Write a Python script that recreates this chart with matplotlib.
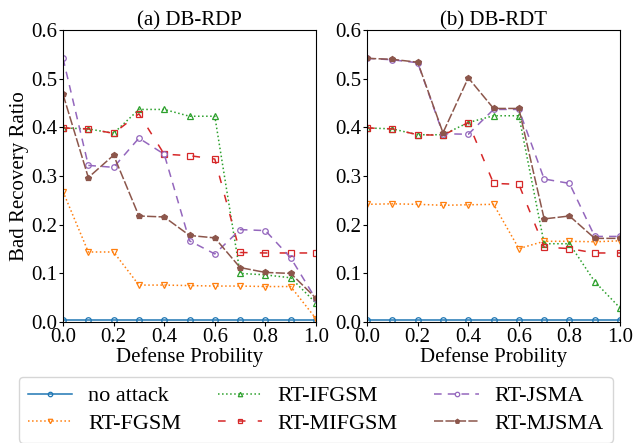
import matplotlib
matplotlib.use("Agg")
import matplotlib.pyplot as plt

plt.rcParams['font.family'] = ['Liberation Serif', 'DejaVu Serif']
plt.rcParams['font.size'] = 15

prob = [0.0, 0.1, 0.2, 0.3, 0.4, 0.5, 0.6, 0.7, 0.8, 0.9, 1.0]

# (a) DB-RDP
rdp_none = [0.005] * 11
rdp_fgsm = [0.268, 0.144, 0.144, 0.076, 0.076, 0.075, 0.074, 0.074, 0.073, 0.073, 0.007]
rdp_ifgsm = [0.399, 0.397, 0.388, 0.437, 0.437, 0.423, 0.423, 0.100, 0.097, 0.091, 0.039]
rdp_mifgsm = [0.399, 0.397, 0.388, 0.428, 0.345, 0.342, 0.335, 0.143, 0.142, 0.142, 0.142]
rdp_jsma = [0.542, 0.322, 0.318, 0.378, 0.345, 0.167, 0.140, 0.190, 0.188, 0.132, 0.047]
rdp_mjsma = [0.468, 0.297, 0.343, 0.218, 0.216, 0.178, 0.173, 0.112, 0.102, 0.100, 0.049]

# (b) DB-RDT
rdt_none = [0.005] * 11
rdt_fgsm = [0.242, 0.243, 0.242, 0.240, 0.241, 0.242, 0.151, 0.166, 0.166, 0.165, 0.167]
rdt_ifgsm = [0.399, 0.397, 0.385, 0.385, 0.410, 0.424, 0.424, 0.161, 0.161, 0.083, 0.029]
rdt_mifgsm = [0.399, 0.397, 0.385, 0.384, 0.410, 0.285, 0.283, 0.154, 0.151, 0.142, 0.142]
rdt_jsma = [0.542, 0.539, 0.533, 0.387, 0.386, 0.437, 0.437, 0.294, 0.285, 0.176, 0.176]
rdt_mjsma = [0.542, 0.540, 0.534, 0.389, 0.502, 0.439, 0.439, 0.212, 0.218, 0.172, 0.172]

labels = ['no attack', 'RT-FGSM', 'RT-IFGSM', 'RT-MIFGSM', 'RT-JSMA', 'RT-MJSMA']
colors = ['tab:blue', 'tab:orange', 'tab:green', 'tab:red', 'tab:purple', 'tab:brown']
markers = ['o', 'v', '^', 's', 'o', 'p']
fills = ['none', 'none', 'none', 'none', 'none', 'full']
styles = ['-', ':', ':', (0, (5, 8)), (0, (5, 4)), (0, (6, 1.5))]

fig = plt.figure(figsize=(6.34, 4.43), dpi=100)
ax1 = fig.add_axes([0.0994, 0.273, 0.399, 0.659])
ax2 = fig.add_axes([0.579, 0.273, 0.399, 0.659])

panels = [
    (ax1, '(a) DB-RDP', [rdp_none, rdp_fgsm, rdp_ifgsm, rdp_mifgsm, rdp_jsma, rdp_mjsma]),
    (ax2, '(b) DB-RDT', [rdt_none, rdt_fgsm, rdt_ifgsm, rdt_mifgsm, rdt_jsma, rdt_mjsma]),
]

for ax, title, series in panels:
    for vals, lab, c, m, f, ls in zip(series, labels, colors, markers, fills, styles):
        ax.plot(prob, vals, color=c, marker=m, fillstyle=f, linestyle=ls,
                linewidth=1.1, markersize=4, markeredgewidth=0.9, label=lab)
    ax.set_xlim(0, 1)
    ax.set_ylim(0, 0.6)
    ax.set_xticks([0.0, 0.2, 0.4, 0.6, 0.8, 1.0])
    ax.set_yticks([0.0, 0.1, 0.2, 0.3, 0.4, 0.5, 0.6])
    ax.set_title(title, fontsize=15, pad=2)
    ax.set_xlabel('Defense Probility', fontsize=15, labelpad=0)
    ax.tick_params(labelsize=15, length=3, pad=1)

ax1.set_ylabel('Bad Recovery Ratio', fontsize=15, labelpad=2)

handles, labs = ax1.get_legend_handles_labels()
fig.legend(handles, labs, ncol=3, loc='upper left', bbox_to_anchor=(0.03, 0.149),
           fontsize=16, handlelength=2.0, handletextpad=0.7, columnspacing=1.65,
           markerscale=0.8, labelspacing=0.3, borderaxespad=0, frameon=True)

fig.savefig('out.png', dpi=100)
